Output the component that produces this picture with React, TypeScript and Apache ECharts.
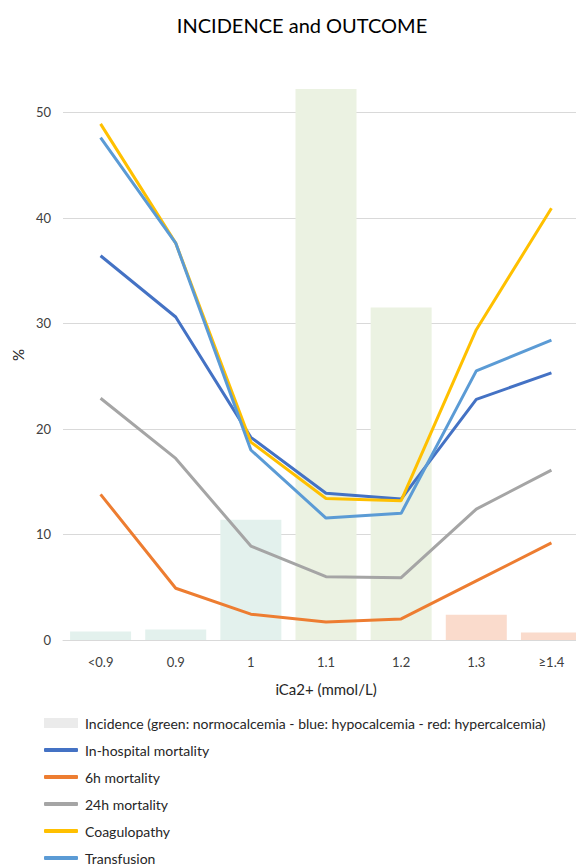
import React, { useEffect, useRef } from "react";
import * as echarts from "echarts";

const categories = ["<0.9", "0.9", "1", "1.1", "1.2", "1.3", "≥1.4"];
const incidence = [0.8, 1.0, 11.4, 52.2, 31.5, 2.4, 0.7];
const incidenceColors = ["#e3f1ed", "#e3f1ed", "#e3f1ed", "#ebf2e2", "#ebf2e2", "#fadbcc", "#fadbcc"];
const inHospital = [36.4, 30.6, 19.2, 13.9, 13.35, 22.8, 25.3];
const mortality6h = [13.8, 4.9, 2.45, 1.7, 2.0, 5.6, 9.2];
const mortality24h = [22.9, 17.2, 8.9, 6.0, 5.9, 12.4, 16.1];
const coagulopathy = [48.9, 37.6, 18.75, 13.4, 13.2, 29.4, 40.9];
const transfusion = [47.6, 37.6, 18.0, 11.55, 12.0, 25.5, 28.4];

const barName = "Incidence (green: normocalcemia - blue: hypocalcemia - red: hypercalcemia)";
const lineSeries = [
  { name: "In-hospital mortality", data: inHospital, color: "#4472c4" },
  { name: "6h mortality", data: mortality6h, color: "#ed7d31" },
  { name: "24h mortality", data: mortality24h, color: "#a5a5a5" },
  { name: "Coagulopathy", data: coagulopathy, color: "#ffc000" },
  { name: "Transfusion", data: transfusion, color: "#5b9bd5" },
];

const FONT = "Lato, 'Open Sans', sans-serif";

export default function App() {
  const ref = useRef<HTMLDivElement>(null);
  useEffect(() => {
    document.body.style.margin = "0";
    document.body.style.overflow = "hidden";
    document.documentElement.style.overflow = "hidden";
    if (!ref.current) return;
    const chart = echarts.init(ref.current, null, { renderer: "svg" });
    const legendTextStyle = { fontSize: 14, color: "#262626", fontFamily: FONT, padding: [0, 0, 0, 2] };
    const legends: any[] = [
      {
        data: [barName],
        orient: "vertical",
        left: 44,
        top: 716,
        itemWidth: 34,
        itemHeight: 10,
        itemGap: 0,
        padding: 0,
        selectedMode: false,
        icon: "rect",
        textStyle: legendTextStyle,
      },
      ...lineSeries.map((s, i) => ({
        data: [s.name],
        orient: "vertical",
        left: 44,
        top: 743 + i * 27,
        itemWidth: 34,
        itemHeight: 4,
        itemGap: 0,
        padding: 0,
        selectedMode: false,
        icon: "roundRect",
        textStyle: legendTextStyle,
      })),
    ];
    chart.setOption({
      animation: false,
      textStyle: { fontFamily: FONT },
      title: {
        text: "INCIDENCE and OUTCOME",
        left: 297,
        textAlign: "center",
        top: 10,
        textStyle: { fontSize: 20, fontWeight: "normal", color: "#000", fontFamily: FONT },
      },
      legend: legends,
      grid: { left: 63, right: 0, top: 70, bottom: 226, containLabel: false },
      xAxis: {
        type: "category",
        data: categories,
        boundaryGap: true,
        axisLine: { show: true, lineStyle: { color: "#d9d9d9", width: 1 } },
        axisTick: { show: false },
        axisLabel: { color: "#404040", fontSize: 13, margin: 15, fontFamily: FONT },
        name: "iCa2+ (mmol/L)",
        nameLocation: "middle",
        nameGap: 41,
        nameTextStyle: { color: "#262626", fontSize: 15, fontFamily: FONT },
      },
      yAxis: {
        type: "value",
        min: 0,
        max: 54,
        interval: 10,
        axisLine: { show: false },
        axisTick: { show: false },
        axisLabel: { color: "#404040", fontSize: 13, margin: 12, showMaxLabel: false, fontFamily: FONT },
        splitLine: { show: true, showMaxLine: false, lineStyle: { color: "#d9d9d9", width: 1 } },
        name: "%",
        nameLocation: "middle",
        nameRotate: 90,
        nameGap: 37,
        nameTextStyle: { color: "#262626", fontSize: 15, fontFamily: FONT },
      },
      series: [
        {
          name: barName,
          type: "bar",
          barWidth: 61,
          itemStyle: { color: "#ebebeb" },
          data: incidence.map((v, i) => ({ value: v, itemStyle: { color: incidenceColors[i] } })),
          z: 1,
        },
        ...lineSeries.map((s, i) => ({
          name: s.name,
          type: "line",
          data: s.data,
          symbol: "none",
          showSymbol: false,
          color: s.color,
          lineStyle: { color: s.color, width: 3 },
          itemStyle: { color: s.color },
          z: 2 + i,
        })),
      ],
    });
    return () => chart.dispose();
  }, []);
  return <div ref={ref} style={{ width: 589, height: 866 }} />;
}
